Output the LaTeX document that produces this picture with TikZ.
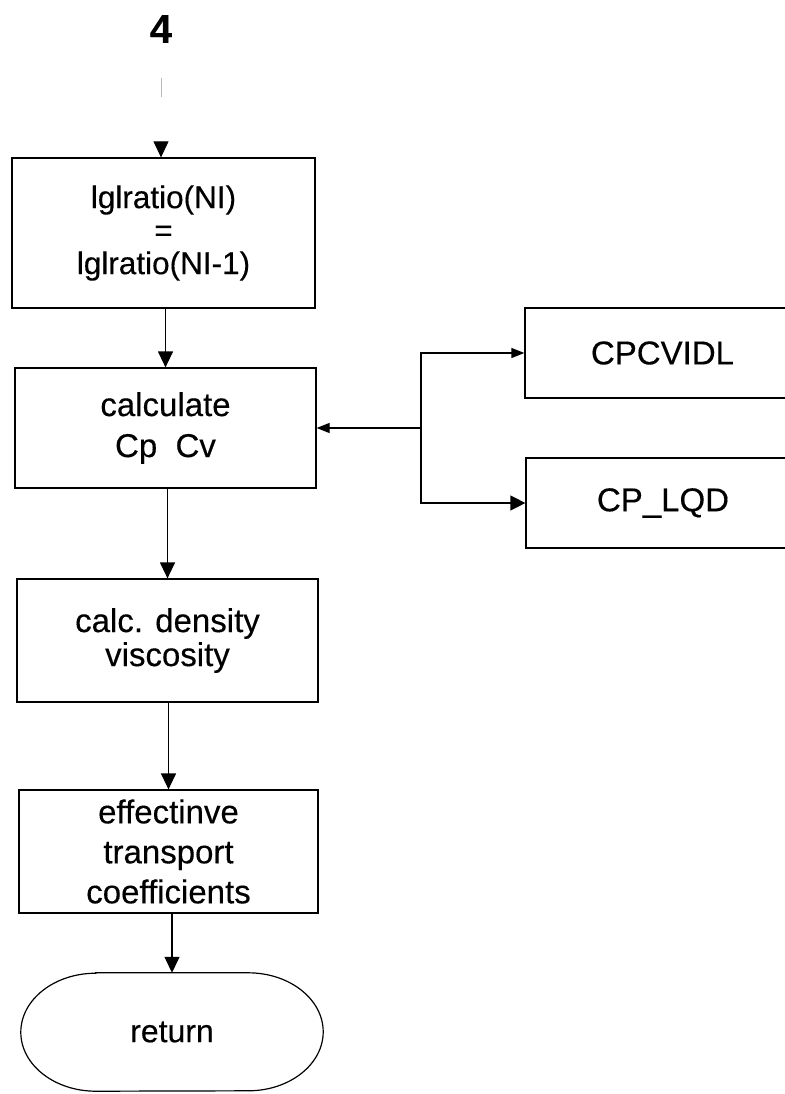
\documentclass[tikz,border=0pt]{standalone}
\usepackage{fontspec}
\setmainfont[FakeBold=0.3]{Liberation Sans}
\usetikzlibrary{arrows.meta}

\begin{document}
\begin{tikzpicture}[x=1pt,y=-1pt,
  line/.style={line width=1.2pt, draw=black},
  procbox/.style={line, rectangle, inner sep=0pt, align=center,
    minimum width=301pt, font=\fontsize{32}{40}\selectfont},
  arrV/.style={line, -{Triangle[width=15pt,length=16pt]}},
  arrS/.style={line, -{Triangle[width=10pt,length=13pt]}},
  arrM/.style={line, -{Triangle[width=15pt,length=15pt]}}]

% page frame
\useasboundingbox (0,0) rectangle (784,1094);

% entry connector label
\node[font=\fontsize{40}{40}\selectfont\bfseries, inner sep=0pt] (four) at (161,29) {4};

% main chain of process boxes
\node[procbox, minimum width=303pt, minimum height=150pt,
      font=\fontsize{31.5}{33}\selectfont] (b1) at (163.5,233)
      {lglratio(NI)\\=\\lglratio(NI-1)};
\node[procbox, minimum height=120pt, font=\fontsize{33}{41}\selectfont]
      (b2) at (165.5,428) {calculate\\Cp\ \ Cv};
\node[procbox, minimum height=123pt, font=\fontsize{33}{34}\selectfont]
      (b3) at (167.5,640.5) {calc. density\\viscosity};
\node[procbox, minimum width=299pt, minimum height=123pt,
      font=\fontsize{33}{40}\selectfont]
      (b4) at (168.5,851.5) {effectinve\\transport\\coefficients};

% terminal
\node[inner sep=0pt, minimum width=302pt, minimum height=118pt,
      font=\fontsize{32}{40}\selectfont] (ret) at (172,1032) {return};
\draw[line] ([xshift=75pt]ret.north west) -- ([xshift=-75pt]ret.north east)
  arc[start angle=90, end angle=-90, x radius=75pt, y radius=59pt]
  -- ([xshift=75pt]ret.south west)
  arc[start angle=-90, end angle=-270, x radius=75pt, y radius=59pt] -- cycle;

% called routines (boxes run past the right edge)
\node[procbox, minimum width=275pt, minimum height=90pt,
      font=\fontsize{33}{40}\selectfont] (cpc) at (662.5,353) {CPCVIDL};
\node[procbox, minimum width=274pt, minimum height=90pt,
      font=\fontsize{33}{40}\selectfont] (cpl) at (663,503) {CP\_LQD};

% connectors
\draw[line width=0.8pt, draw=gray!55, dash pattern=on 0pt off 35pt on 19pt off 400pt,
      -{Triangle[width=15pt,length=16pt,black]}] (four) -- (four |- b1.north);
\draw[arrV] (b1.south -| b2.north) -- (b2.north);
\draw[arrV] (b2.south -| b3.north) -- (b3.north);
\draw[arrV] (b3.south -| b4.north) -- (b4.north);
\draw[arrV] (b4.south -| ret.north) -- (ret.north);

\coordinate (j) at (421,428);
\draw[arrS] (j) -- (b2.east);
\draw[arrS] (j) |- (cpc.west);
\draw[arrM] (j) |- (cpl.west);
\end{tikzpicture}
\end{document}
